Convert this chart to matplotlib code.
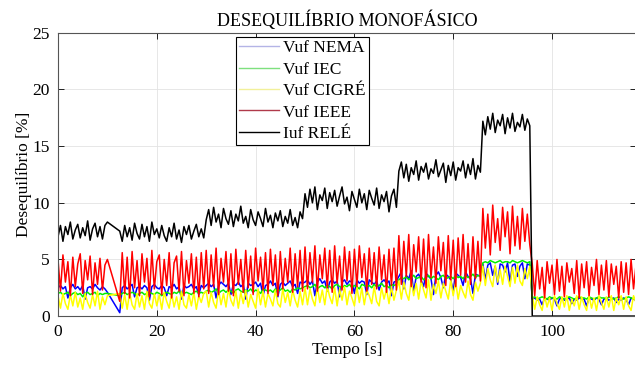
import numpy as np
import matplotlib
matplotlib.use("Agg")
import matplotlib.pyplot as plt

# tempo [s] - amostras a cada 0.5 s, falha de dados entre 10 e 12.5 s
t = np.concatenate([np.arange(0, 10.5, 0.5), np.arange(12.5, 117.5, 0.5)])

# Vuf NEMA
nema = [2.5, 2.7, 2.4, 2.6, 1.6, 2.5, 2.8, 2.4, 2.6, 2.3, 2.7, 1.5, 2.5, 2.6, 2.4, 2.8, 2.5, 2.3, 2.6, 2.4, 2.1,
        0.3, 2.5, 2.7, 2.4, 2.6, 2.8, 1.7, 2.5, 2.6, 2.4, 2.7, 2.5, 1.4, 2.6, 2.8, 2.5, 2.4, 2.7, 2.5, 1.8, 2.6, 2.5, 2.8, 2.4, 2.6, 1.5, 2.7, 2.5, 2.6, 2.8, 2.4, 2.6, 1.9, 2.7, 2.5,
        2.7, 2.9, 2.6, 2.8, 1.6, 2.7, 3.0, 2.8, 2.6, 2.9, 1.9, 2.8, 2.7, 3.0, 2.6, 2.8, 1.5, 2.9, 2.7, 2.8, 3.0, 2.6, 2.9, 1.8, 2.7, 2.8, 3.1, 2.7, 2.9, 1.7, 2.8, 3.0, 2.7, 2.9, 3.1, 2.6, 2.8, 2.0, 3.0, 2.9,
        3.0, 3.2, 2.8, 3.1, 1.8, 3.0, 3.3, 2.9, 3.1, 2.2, 3.0, 3.2, 2.9, 3.1, 1.7, 3.0, 3.2, 2.8, 3.1, 3.0, 2.0, 3.2, 2.9, 3.1, 3.0, 1.9, 3.2, 3.0, 2.8, 3.1, 2.3, 3.0, 3.2, 2.9, 3.1, 1.8, 3.0, 3.1,
        3.5, 3.9, 2.4, 3.6, 3.3, 4.0, 2.1, 3.5, 3.7, 3.2, 2.6, 3.8, 3.5, 3.3, 1.9, 3.6, 3.9, 3.4, 2.5, 3.7, 3.5, 3.2, 2.2, 3.8, 3.6, 3.4, 2.7, 3.9, 3.5, 3.3, 2.0, 3.7, 3.6, 3.5,
        4.6, 3.2, 4.5, 4.7, 3.6, 4.4, 2.8, 4.6, 4.5, 3.9, 4.7, 3.0, 4.5, 4.6, 3.5, 4.4, 4.7, 3.3, 4.6, 4.5,
        1.5, 1.6, 1.4, 1.5, 1.0, 1.6, 1.5, 1.4, 1.6, 1.5, 0.9, 1.5, 1.6, 1.4, 1.5, 1.6, 1.1, 1.5, 1.4, 1.6, 1.5, 1.5, 0.9, 1.6, 1.5, 1.4, 1.6, 1.5, 1.0, 1.5, 1.6, 1.4, 1.5, 1.6, 1.2, 1.5, 1.4, 1.6, 1.5, 1.0, 1.6, 1.5, 1.4]

# Vuf IEC
iec = [2.0, 2.1, 1.9, 2.0, 2.1, 1.8, 2.0, 2.1, 1.9, 2.0, 1.7, 2.0, 2.1, 1.9, 2.0, 2.1, 1.8, 2.0, 1.9, 2.0, 2.0,
       1.8, 2.0, 2.1, 1.9, 2.0, 2.1, 2.0, 1.8, 2.0, 2.1, 1.9, 2.0, 2.1, 2.0, 1.9, 2.1, 2.0, 1.8, 2.0, 2.1, 2.0, 1.9, 2.1, 2.0, 2.2, 1.9, 2.0, 2.1, 2.0, 1.9, 2.1, 2.2, 2.0, 2.1, 2.0,
       2.2, 2.3, 2.1, 2.2, 2.4, 2.0, 2.2, 2.3, 2.1, 2.3, 2.2, 2.0, 2.3, 2.4, 2.2, 2.1, 2.3, 2.2, 2.4, 2.1, 2.3, 2.2, 2.0, 2.4, 2.3, 2.2, 2.3, 2.1, 2.4, 2.2, 2.3, 2.5, 2.2, 2.3, 2.1, 2.4, 2.3, 2.5, 2.4, 2.5,
       2.6, 2.7, 2.5, 2.6, 2.8, 2.4, 2.6, 2.7, 2.5, 2.7, 2.6, 2.4, 2.7, 2.8, 2.6, 2.5, 2.7, 2.6, 2.8, 2.5, 2.7, 2.6, 2.4, 2.8, 2.7, 2.6, 2.7, 2.5, 2.8, 2.6, 2.7, 2.9, 2.6, 2.7, 2.5, 2.8, 2.7, 2.8,
       3.2, 3.4, 3.3, 3.5, 3.2, 3.4, 3.6, 3.3, 3.4, 3.5, 3.2, 3.4, 3.6, 3.3, 3.5, 3.4, 3.2, 3.5, 3.6, 3.3, 3.4, 3.5, 3.3, 3.6, 3.4, 3.5, 3.3, 3.6, 3.4, 3.5, 3.7, 3.4, 3.6, 3.5,
       4.7, 4.8, 4.7, 4.9, 4.8, 4.7, 4.8, 4.9, 4.7, 4.8, 4.8, 4.7, 4.9, 4.8, 4.7, 4.8, 4.9, 4.8, 4.7, 4.8,
       1.6, 1.7, 1.5, 1.6, 1.7, 1.6, 1.5, 1.7, 1.6, 1.6, 1.5, 1.7, 1.6, 1.5, 1.6, 1.7, 1.6, 1.5, 1.6, 1.7, 1.6, 1.6, 1.5, 1.7, 1.6, 1.5, 1.6, 1.7, 1.6, 1.6, 1.5, 1.7, 1.6, 1.5, 1.6, 1.7, 1.6, 1.5, 1.6, 1.7, 1.6, 1.5, 1.6]

# Vuf CIGRÉ
cigre = [1.8, 0.7, 2.0, 1.1, 0.6, 1.9, 0.9, 2.1, 0.8, 1.6, 0.6, 2.0, 1.2, 0.7, 1.9, 0.9, 2.2, 0.6, 1.7, 1.0, 1.8,
         2.0, 0.7, 1.9, 0.6, 2.1, 1.0, 0.6, 2.0, 0.8, 1.8, 0.6, 2.2, 1.1, 0.7, 2.0, 0.9, 1.9, 0.6, 2.1, 1.3, 0.7, 2.0, 0.8, 1.7, 0.6, 2.2, 1.0, 0.7, 1.9, 0.9, 2.1, 0.6, 1.8, 1.2, 2.0,
         2.2, 0.8, 2.1, 1.2, 0.7, 2.3, 1.0, 2.0, 0.8, 2.4, 1.4, 0.9, 2.2, 0.7, 2.1, 1.1, 2.3, 0.8, 1.9, 1.3, 0.7, 2.4, 1.0, 2.2, 0.8, 2.0, 1.5, 0.9, 2.3, 1.1, 0.8, 2.4, 1.2, 2.1, 0.9, 2.3, 1.4, 0.8, 2.2, 1.0,
         2.5, 1.0, 2.4, 1.5, 0.9, 2.6, 1.2, 2.3, 1.0, 2.6, 1.7, 1.1, 2.5, 0.9, 2.4, 1.4, 2.6, 1.0, 2.2, 1.6, 0.9, 2.6, 1.2, 2.5, 1.0, 2.3, 1.8, 1.1, 2.6, 1.3, 0.9, 2.5, 1.5, 2.4, 1.1, 2.6, 1.4, 2.3,
         3.1, 1.5, 3.0, 2.0, 1.4, 3.2, 1.8, 2.9, 1.5, 3.1, 2.3, 1.6, 3.2, 1.4, 2.8, 2.0, 3.1, 1.6, 2.9, 2.2, 1.5, 3.2, 1.8, 3.0, 1.5, 2.7, 2.1, 1.6, 3.1, 1.9, 1.4, 3.0, 2.2, 2.9,
         4.4, 2.7, 4.2, 3.2, 2.6, 4.5, 3.0, 4.1, 2.8, 4.4, 3.5, 2.6, 4.3, 2.9, 4.5, 3.1, 2.7, 4.2, 3.3, 4.4,
         1.8, 0.6, 1.7, 1.0, 0.5, 1.8, 0.8, 1.6, 0.5, 1.8, 1.1, 0.6, 1.7, 0.8, 1.8, 0.5, 1.5, 0.9, 1.8, 0.6, 1.7, 1.0, 0.5, 1.8, 0.7, 1.6, 0.5, 1.8, 1.2, 0.6, 1.7, 0.8, 1.8, 0.5, 1.6, 1.0, 1.8, 0.6, 1.7, 0.9, 0.5, 1.8, 1.2]

# Vuf IEEE
ieee = [5.0, 2.2, 5.4, 3.0, 4.8, 1.8, 5.2, 2.6, 4.6, 5.5, 2.0, 4.9, 3.2, 5.3, 1.9, 4.7, 2.8, 5.1, 2.3, 4.5, 5.0,
        1.3, 5.6, 2.0, 5.2, 1.6, 5.7, 2.5, 4.9, 1.8, 5.5, 3.0, 5.1, 1.7, 5.8, 2.4, 4.8, 5.4, 1.9, 5.0, 2.7, 5.6, 1.6, 4.7, 5.3, 2.2, 5.7, 1.8, 4.9, 2.9, 5.5, 2.0, 5.2, 1.7, 5.6, 2.4,
        5.8, 2.0, 5.4, 2.6, 6.0, 1.9, 5.1, 3.0, 5.7, 2.2, 5.5, 1.8, 5.9, 2.8, 5.0, 2.1, 5.8, 2.5, 5.3, 1.9, 6.0, 3.1, 5.2, 2.3, 5.6, 2.0, 5.9, 2.7, 5.4, 1.8, 5.7, 2.4, 5.1, 3.0, 6.0, 2.1, 5.5, 2.6, 5.8, 2.2,
        6.1, 2.4, 5.6, 3.0, 6.2, 2.2, 5.4, 3.3, 6.0, 2.5, 5.8, 2.1, 6.2, 2.9, 5.3, 2.3, 6.1, 3.1, 5.7, 2.0, 5.9, 2.6, 6.2, 3.4, 5.5, 2.2, 6.0, 2.8, 5.6, 2.4, 6.1, 3.2, 5.4, 2.1, 5.9, 2.7, 6.0, 2.3,
        7.1, 2.8, 6.6, 3.5, 7.2, 2.6, 6.3, 3.9, 7.0, 3.0, 6.8, 2.5, 7.2, 3.4, 6.1, 2.9, 7.0, 4.0, 6.5, 2.7, 7.1, 3.2, 6.7, 2.6, 6.9, 3.6, 7.2, 3.0, 6.4, 2.8, 7.0, 3.3, 6.6, 3.1,
        9.5, 6.0, 9.0, 5.4, 9.8, 6.5, 8.6, 5.8, 9.6, 7.0, 9.2, 5.5, 9.7, 6.2, 8.8, 5.9, 9.5, 6.6, 9.0, 6.3,
        4.6, 1.8, 4.9, 2.4, 4.3, 1.6, 4.8, 2.9, 4.5, 1.9, 5.0, 2.2, 4.4, 1.7, 4.7, 3.0, 4.2, 2.0, 4.9, 1.6, 4.6, 2.5, 4.8, 1.8, 4.3, 2.7, 5.0, 1.9, 4.5, 2.3, 4.9, 1.7, 4.6, 2.8, 4.4, 1.6, 4.8, 2.1, 4.7, 1.9, 5.0, 2.4, 4.5]

# Iuf RELÉ
rele = [7.0, 8.0, 6.6, 7.9, 7.2, 8.3, 6.8, 7.6, 8.1, 6.9, 7.8, 7.1, 8.4, 6.7, 7.7, 8.2, 7.0, 7.9, 6.8, 8.0, 8.3,
        7.5, 6.6, 8.0, 7.0, 7.8, 6.7, 8.2, 7.3, 6.8, 8.1, 7.0, 7.9, 6.6, 8.3, 7.2, 7.7, 6.9, 8.0, 7.1, 6.6, 7.8, 7.0, 8.2, 6.8, 7.6, 6.5, 7.9, 7.2, 8.0, 6.8, 7.5, 8.1, 7.0, 7.7, 6.9,
        8.5, 9.4, 8.0, 9.6, 8.3, 9.0, 7.8, 9.5, 8.6, 8.1, 9.3, 7.9, 9.0, 8.4, 9.7, 8.2, 8.8, 7.8, 9.4, 8.5, 8.0, 9.2, 8.6, 7.9, 9.5, 8.3, 8.9, 7.8, 9.1, 8.4, 9.3, 7.9, 8.8, 8.2, 9.4, 8.0, 8.7, 7.8, 9.2, 8.6,
        10.8, 9.6, 11.2, 10.0, 11.4, 9.4, 10.7, 10.2, 11.3, 9.5, 10.9, 10.1, 11.1, 9.7, 10.6, 11.4, 9.9, 10.5, 9.3, 11.0, 10.3, 9.6, 11.2, 10.0, 10.8, 9.4, 11.1, 10.4, 9.8, 11.3, 9.5, 10.7, 10.1, 11.0, 9.2, 10.6, 11.2, 9.6,
        12.8, 13.6, 12.2, 13.4, 11.9, 13.1, 12.5, 13.7, 12.0, 13.2, 12.7, 13.5, 12.1, 13.0, 12.6, 13.8, 12.3, 12.9, 13.5, 11.8, 13.3, 12.4, 13.6, 12.0, 13.1, 12.8, 13.7, 12.2, 13.4, 12.5, 13.9, 12.1, 13.3, 12.7,
        17.2, 16.0, 17.6, 16.5, 17.9, 16.2, 17.3, 16.8, 17.8, 16.1, 17.5, 16.6, 17.9, 16.3, 17.1, 16.7, 17.8, 16.4, 17.4, 16.8,
        0.0, 0.0, 0.0, 0.0, 0.0, 0.0, 0.0, 0.0, 0.0, 0.0, 0.0, 0.0, 0.0, 0.0, 0.0, 0.0, 0.0, 0.0, 0.0, 0.0, 0.0, 0.0, 0.0, 0.0, 0.0, 0.0, 0.0, 0.0, 0.0, 0.0, 0.0, 0.0, 0.0, 0.0, 0.0, 0.0, 0.0, 0.0, 0.0, 0.0, 0.0, 0.0, 0.0]

labels = ["Vuf NEMA", "Vuf IEC", "Vuf CIGRÉ", "Vuf IEEE", "Iuf RELÉ"]
cores = ["#0000ff", "#00ee00", "#ffff00", "#ff0000", "#000000"]
cores_legenda = ["#b4b4e6", "#7ee07e", "#f2f09a", "#b03a4a", "#000000"]

plt.rcParams['font.family'] = ['Liberation Serif', 'DejaVu Serif']

fig = plt.figure(figsize=(6.35, 3.65), dpi=100)
ax = fig.add_axes([58 / 635, 0.134, 578 / 635, 0.776])

for serie, cor, lab in zip([nema, iec, cigre, ieee, rele], cores, labels):
    ax.plot(t, serie, color=cor, lw=1.1, label=lab)

ax.set_xlim(0, 117)
ax.set_ylim(0, 25)
ax.set_xticks(np.arange(0, 101, 20))
ax.set_yticks(np.arange(0, 26, 5))
ax.grid(True, color='#e3e3e3', lw=0.6)
ax.set_axisbelow(True)
ax.tick_params(direction='in', top=True, right=True, labelsize=12.5, length=4, width=0.6, pad=6)
for s in ax.spines.values():
    s.set_color('#555555')
    s.set_linewidth(0.8)

ax.set_title("DESEQUILÍBRIO MONOFÁSICO", fontsize=13, pad=5)
ax.set_xlabel("Tempo [s]", fontsize=12.5, labelpad=1)
ax.set_ylabel("Desequilíbrio [%]", fontsize=12.5, labelpad=0.5)

leg = ax.legend(loc='upper left', bbox_to_anchor=(0.308, 0.986), fontsize=12.5,
                frameon=True, fancybox=False, framealpha=1, edgecolor='black',
                handlelength=2.3, handletextpad=0.2, labelspacing=0.3,
                borderpad=0.2, borderaxespad=0)
leg.get_frame().set_linewidth(0.8)
for h, c in zip(leg.get_lines(), cores_legenda):
    h.set_linewidth(1.0)
    h.set_color(c)

fig.savefig("out.png", dpi=100)
